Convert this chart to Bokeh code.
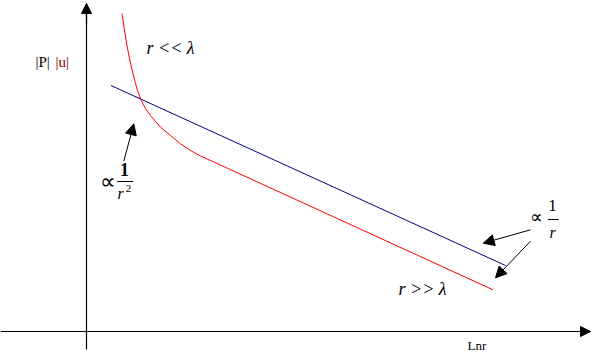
from bokeh.plotting import figure
from bokeh.models import ColumnDataSource, Range1d, Arrow, NormalHead, Label
from bokeh.embed import file_html
from bokeh.resources import INLINE

# Schematic: x ~ ln r, y ~ ln amplitude (arbitrary units, origin at axes crossing)
blue_x = [24.5, 419.0]
blue_y = [246.0, 66.0]

red_x = [35.5, 38.0, 40.5, 43.0, 45.7, 48.5, 51.0, 54.7, 59.0, 64.0, 69.0, 74.0,
         84.0, 94.0, 104.0, 114.0, 124.0, 406.5]
red_y = [318.0, 301.0, 286.0, 273.0, 261.0, 250.0, 241.0, 231.0, 223.0, 216.0, 210.0, 204.3,
         196.0, 187.7, 181.0, 175.5, 171.0, 41.7]

# axis extents
xaxis_span = [-86.0, 504.0]
yaxis_span = [-18.0, 328.0]

# annotation arrows: (x_start, y_start, x_end, y_end)
arrows = [
    (37.3, 170.3, 47.3, 207.7),
    (444.0, 101.7, 396.7, 88.3),
    (444.0, 90.3, 409.0, 53.7),
]

p = figure(width=591, height=358, output_backend="svg", toolbar_location=None,
           x_range=Range1d(-86, 505), y_range=Range1d(-27, 331),
           x_axis_location=None, y_axis_location=None, min_border=0)
p.grid.visible = False
p.outline_line_color = None
p.background_fill_color = "white"
p.border_fill_color = "white"

# axes
p.line(xaxis_span, [0, 0], line_color="black", line_width=1.2)
p.line([0, 0], yaxis_span, line_color="black", line_width=1.2)
p.add_layout(Arrow(end=NormalHead(size=10, fill_color="black", line_color="black"),
                   x_start=xaxis_span[1] - 20, y_start=0, x_end=xaxis_span[1], y_end=0,
                   line_color="black", line_width=1.2))
p.add_layout(Arrow(end=NormalHead(size=10, fill_color="black", line_color="black"),
                   x_start=0, y_start=yaxis_span[1] - 20, x_end=0, y_end=yaxis_span[1],
                   line_color="black", line_width=1.2))

# curves
p.line(x="x", y="y", source=ColumnDataSource(dict(x=blue_x, y=blue_y)),
       line_color="#000080", line_width=1)
p.line(x="x", y="y", source=ColumnDataSource(dict(x=red_x, y=red_y)),
       line_color="#ff0000", line_width=1)

for xs, ys, xe, ye in arrows:
    p.add_layout(Arrow(end=NormalHead(size=11, fill_color="black", line_color="black"),
                       x_start=xs, y_start=ys, x_end=xe, y_end=ye,
                       line_color="black", line_width=1))

serif = "Liberation Serif"

def lab(x, y, t, size="16px", style="normal", color="black", align="center"):
    p.add_layout(Label(x=x, y=y, text=t, text_font=serif, text_font_size=size,
                       text_font_style=style, text_color=color,
                       text_align=align, text_baseline="middle"))

lab(60, 284, "r << λ", size="18px", style="italic", align="left")
lab(312, 43, "r >> λ", size="18px", style="italic", align="left")
lab(-51, 270, "|P|", size="15px", align="left")
lab(-31, 270, "|u|", size="15px", color="#800000", align="left")
lab(381, -14, "Lnr", size="13px", align="left")

# left fraction ∝ 1/r^2
lab(21.5, 150, "∝", size="22px")
lab(38, 162, "1", size="18px", style="bold")
p.line([30.7, 46.7], [150, 150], line_color="black", line_width=1)
lab(34, 138, "r", size="16px", style="italic")
lab(42, 143, "2", size="11px")

# right fraction ∝ 1/r
lab(450, 114.5, "∝", size="18px")
lab(466, 126, "1", size="17px")
p.line([461.3, 472.3], [112, 112], line_color="black", line_width=1)
lab(466, 99.3, "r", size="16px", style="italic")

open("out.html", "w").write(file_html(p, INLINE))
